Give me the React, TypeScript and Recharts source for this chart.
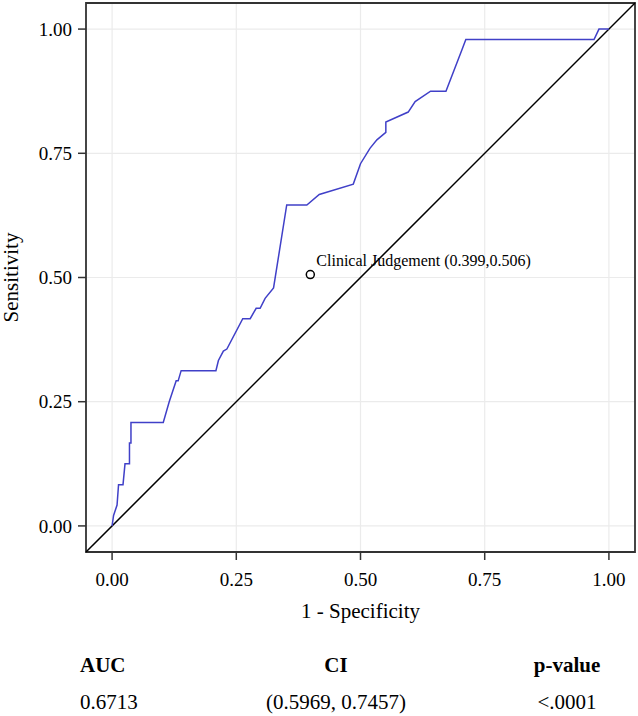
import React from 'react';
import {
  ComposedChart, Line, Scatter, XAxis, YAxis, CartesianGrid,
  ReferenceArea, ReferenceLine, Label,
} from 'recharts';

// ROC curve: 1 - specificity vs sensitivity
const fprValues = [
  0, 0.003, 0.010, 0.013, 0.022, 0.026, 0.035, 0.035, 0.038, 0.038,
  0.103, 0.115, 0.129, 0.133, 0.139, 0.209, 0.214, 0.224, 0.231, 0.263,
  0.278, 0.290, 0.298, 0.308, 0.325, 0.3515, 0.392, 0.417, 0.4855, 0.500,
  0.519, 0.533, 0.551, 0.551, 0.596, 0.610, 0.641, 0.672, 0.704, 0.712,
  0.970, 0.980, 1.0,
];
const tprValues = [
  0, 0.021, 0.042, 0.083, 0.083, 0.125, 0.125, 0.167, 0.167, 0.208,
  0.208, 0.250, 0.292, 0.292, 0.3125, 0.3125, 0.333, 0.352, 0.356, 0.417,
  0.417, 0.438, 0.438, 0.458, 0.479, 0.646, 0.646, 0.667, 0.688, 0.729,
  0.760, 0.777, 0.792, 0.813, 0.833, 0.854, 0.875, 0.875, 0.958, 0.979,
  0.979, 1.0, 1.0,
];

const judgementPoint = { fpr: 0.399, tpr: 0.506, name: 'Clinical Judgement (0.399,0.506)' };

const axisTicks = [0, 0.25, 0.5, 0.75, 1];
const axisDomain = [-0.0525, 1.0525];

const tableHeaders = ['AUC', 'CI', 'p-value'];
const tableValues = ['0.6713', '(0.5969, 0.7457)', '<.0001'];

const rocData = fprValues.map((f, i) => ({ fpr: f, tpr: tprValues[i] }));

const FONT = '"Liberation Serif", "Times New Roman", serif';

const JudgementShape = (props: any) => {
  const { cx, cy, payload } = props;
  return (
    <g>
      <circle cx={cx} cy={cy} r={4} fill="none" stroke="#000" strokeWidth={1.5} />
      <text x={cx + 6} y={cy - 9} fontFamily={FONT} fontSize={16} fill="#000">
        {payload.name}
      </text>
    </g>
  );
};

// table column anchors
const colX = [80, 336, 567];
const colAnchor: any[] = ['start', 'middle', 'middle'];

export default function App() {
  return (
    <div style={{ position: 'absolute', left: 0, top: 0, width: 638, height: 716, background: '#fff' }}>
      <ComposedChart
        width={638}
        height={716}
        margin={{ top: 3, right: 3, left: 0, bottom: 0 }}
        style={{ fontFamily: FONT }}
      >
        <CartesianGrid stroke="#ebebeb" strokeWidth={1.2} />
        <XAxis
          type="number"
          dataKey="fpr"
          domain={axisDomain}
          ticks={axisTicks}
          allowDataOverflow
          tickFormatter={(v: number) => v.toFixed(2)}
          axisLine={false}
          tickLine={{ stroke: '#333', strokeWidth: 1.5 }}
          tickSize={8}
          tickMargin={13}
          height={164}
          tick={{ fill: '#000', fontSize: 19, fontFamily: FONT }}
        >
          <Label
            value="1 - Specificity"
            position="insideTop"
            offset={51}
            style={{ fontSize: 21, fontFamily: FONT, fill: '#000' }}
          />
        </XAxis>
        <YAxis
          type="number"
          dataKey="tpr"
          domain={axisDomain}
          ticks={axisTicks}
          allowDataOverflow
          tickFormatter={(v: number) => v.toFixed(2)}
          axisLine={false}
          tickLine={{ stroke: '#333', strokeWidth: 1.5 }}
          tickSize={8}
          tickMargin={6}
          width={86}
          tick={{ fill: '#000', fontSize: 19, fontFamily: FONT }}
        >
          <Label
            value="Sensitivity"
            angle={-90}
            position="insideLeft"
            offset={11}
            style={{ fontSize: 21, fontFamily: FONT, fill: '#000', textAnchor: 'middle' }}
          />
        </YAxis>
        <ReferenceLine
          segment={[{ x: axisDomain[0], y: axisDomain[0] }, { x: axisDomain[1], y: axisDomain[1] }]}
          stroke="#000"
          strokeWidth={1.5}
          ifOverflow="visible"
        />
        <Line
          data={rocData}
          dataKey="tpr"
          type="linear"
          stroke="#4040c8"
          strokeWidth={1.5}
          dot={false}
          activeDot={false}
          isAnimationActive={false}
        />
        <Scatter
          data={[judgementPoint]}
          dataKey="tpr"
          shape={<JudgementShape />}
          isAnimationActive={false}
        />
        <ReferenceArea
          x1={axisDomain[0]}
          x2={axisDomain[1]}
          y1={axisDomain[0]}
          y2={axisDomain[1]}
          fill="none"
          fillOpacity={0}
          stroke="#333"
          strokeWidth={1.8}
          ifOverflow="visible"
        />
      </ComposedChart>
      <svg
        width={638}
        height={716}
        style={{ position: 'absolute', left: 0, top: 0, pointerEvents: 'none' }}
      >
        {tableHeaders.map((h, i) => (
          <text key={h} x={colX[i]} y={672} textAnchor={colAnchor[i]} fontFamily={FONT} fontSize={21} fontWeight="bold" fill="#000">
            {h}
          </text>
        ))}
        {tableValues.map((v, i) => (
          <text key={v} x={colX[i]} y={709} textAnchor={colAnchor[i]} fontFamily={FONT} fontSize={21} fill="#000">
            {v}
          </text>
        ))}
      </svg>
    </div>
  );
}
